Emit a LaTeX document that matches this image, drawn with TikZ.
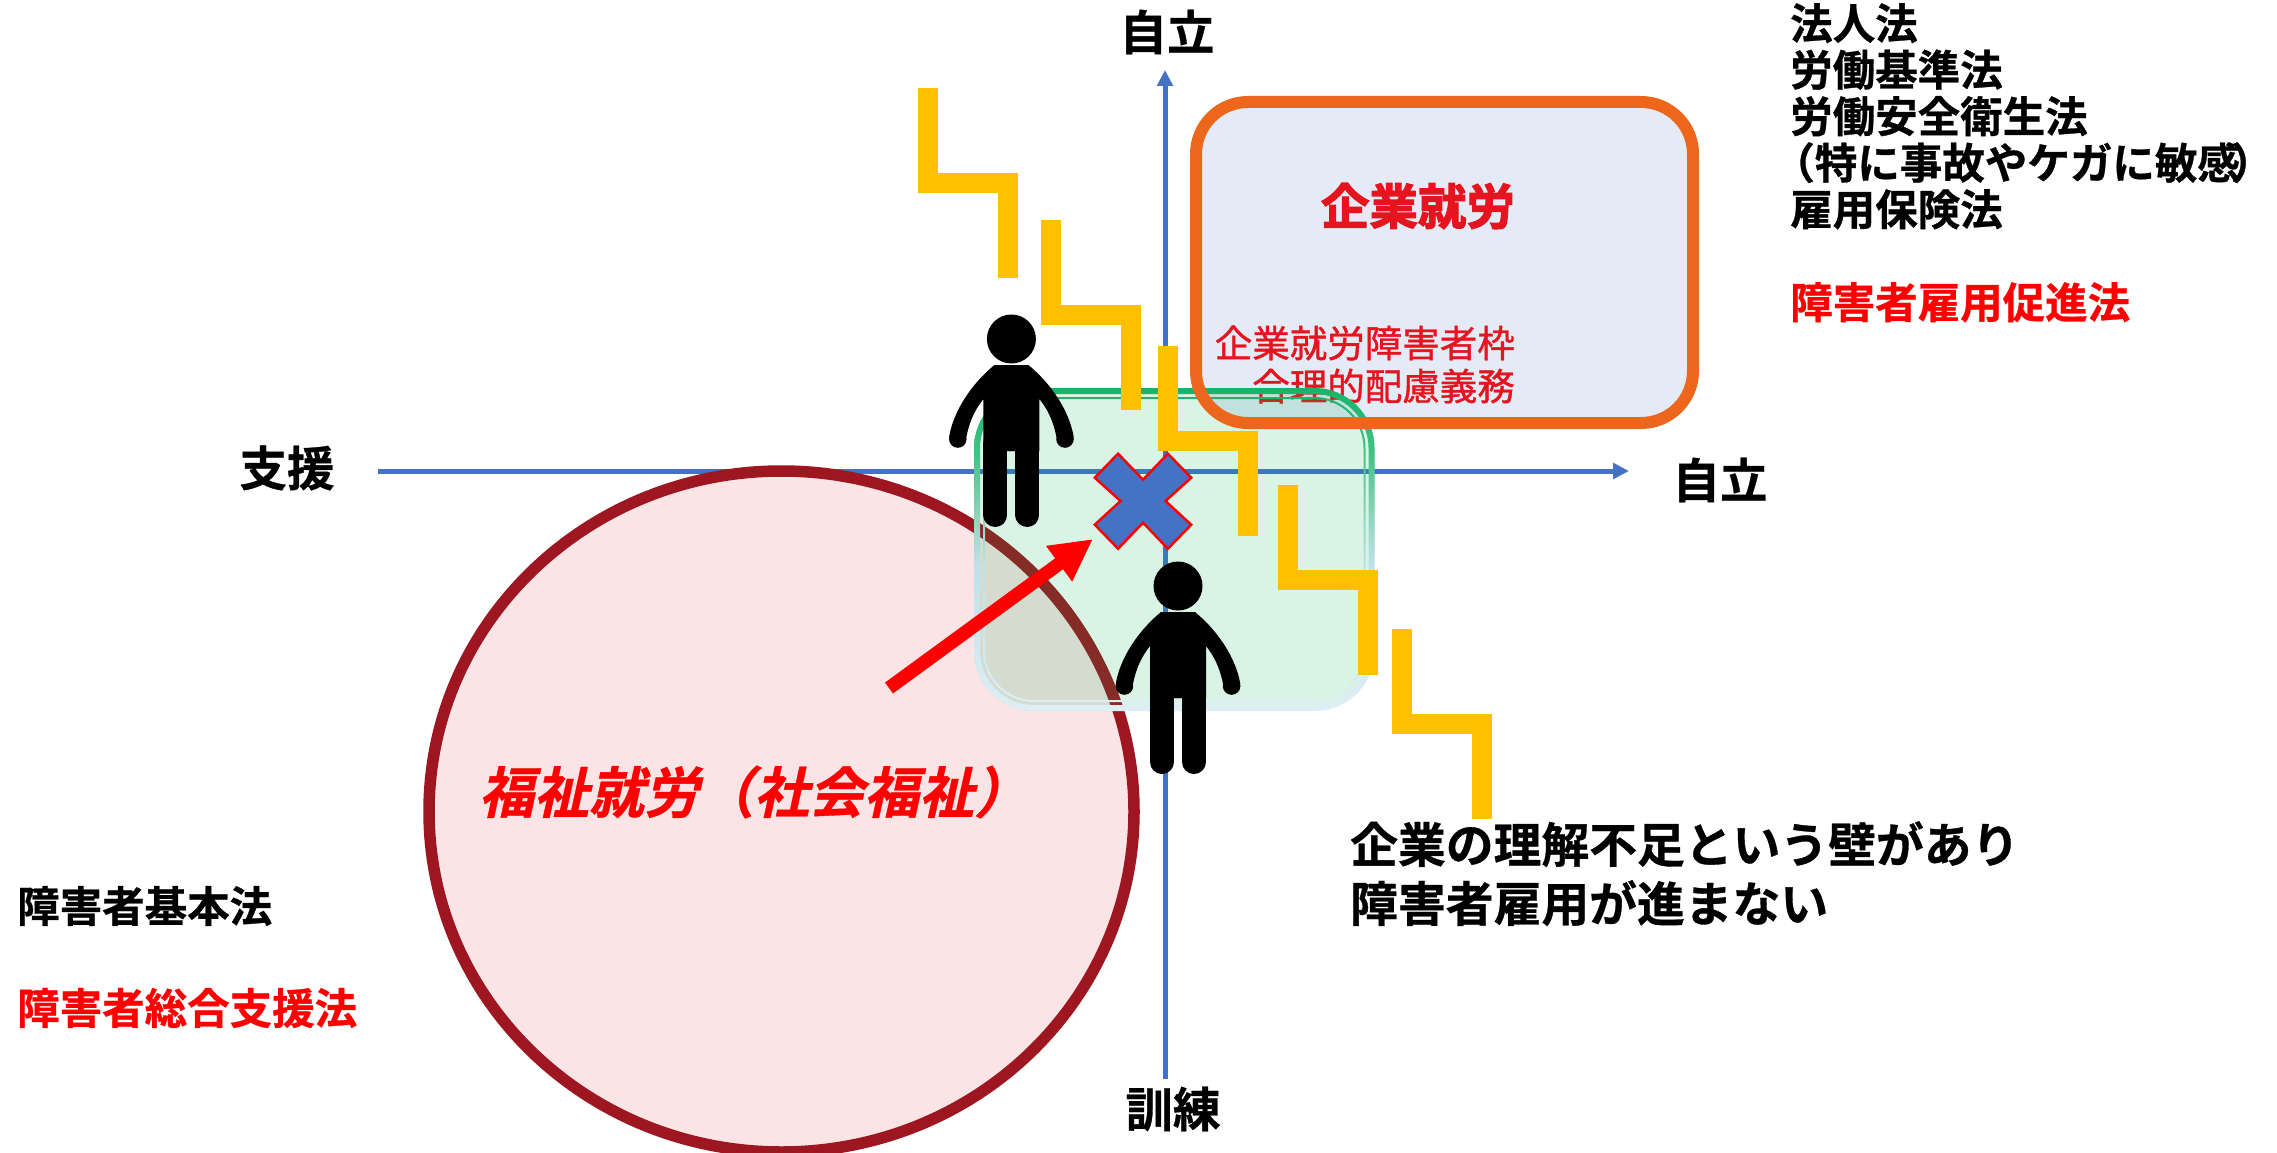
\documentclass[tikz,border=0pt]{standalone}
\usepackage{fontspec}
\setmainfont{Noto Sans CJK JP}
\newfontfamily\boldjp[FakeBold=0.7]{Noto Sans CJK JP Bold}
\newfontfamily\heavyjp[FakeBold=2.6]{Noto Sans CJK JP Bold}
\newfontfamily\midjp[FakeBold=1]{Noto Sans CJK JP}
\newfontfamily\slantjp[FakeSlant=0.22,FakeBold=0.7]{Noto Sans CJK JP Bold}
\usepackage{tikz}
\usetikzlibrary{arrows.meta}
\definecolor{axisblue}{HTML}{4472C4}
\definecolor{stairyellow}{HTML}{FFC000}
\definecolor{boxorange}{HTML}{EC661C}
\definecolor{boxblue}{HTML}{E4EAF6}
\definecolor{boxred}{HTML}{E6141E}
\definecolor{circlered}{HTML}{9E1620}
\definecolor{circlepink}{HTML}{FBE4E6}
\definecolor{zonegreen}{HTML}{00B050}
\definecolor{ring0}{HTML}{17B368}
\definecolor{ring1}{HTML}{40C283}
\definecolor{ring2}{HTML}{90D4BE}
\definecolor{ring3}{HTML}{BEE1EA}
\definecolor{ring4}{HTML}{DEEEF5}
\pgfdeclareverticalshading{ringshade}{100bp}{color(0bp)=(ring4); color(25bp)=(ring4); color(47.5bp)=(ring3); color(55bp)=(ring2); color(65bp)=(ring1); color(75bp)=(ring0); color(100bp)=(ring0)}
\tikzset{axis line/.style={draw=axisblue,line width=5pt,-{Triangle[length=16pt,width=15.5pt]}},
axis label/.style={font=\boldjp\fontsize{47.5}{56}\selectfont,inner sep=0pt},
law list/.style={font=\boldjp\fontsize{42.5}{46.5}\selectfont,inner sep=0pt,anchor=north west,align=left},
stair/.style={draw=stairyellow,line width=20pt,miter limit=10},
person/.pic={
  \fill (0,0) circle (24.5pt);
  \foreach \s in {-1,1} {
    \fill[xscale=\s] (-3,26) -- (17,26) .. controls (40,45) and (58,72) .. (62.3,98) -- (45,98)
      .. controls (42,82) and (36,70) .. (28,60) -- (28,112) -- (-3,112) -- cycle;
    \fill[xscale=\s] (53.6,100) circle (8.8pt);
    \draw[xscale=\s,line width=24pt,line cap=round] (16,105) -- (16,176);
  }
}
}

\begin{document}
\begin{tikzpicture}[x=1pt,y=-1pt]
        \clip (0,0) rectangle (2277,1153);

        \coordinate (v_0) at (1165,1079);
        \coordinate (v_1) at (1165,70);
        \coordinate (h_0) at (378,471);
        \coordinate (h_1) at (1629,471);
        \draw[axis line] (v_0) -- (v_1);
        \draw[axis line] (h_0) -- (h_1);

        % welfare circle
        \draw[draw=circlered,fill=circlepink,line width=11.5pt] (781.5,811.5) ellipse (352.5pt and 340.5pt);

        % company box, its outline comes again after the green zone
        \fill[boxblue,rounded corners=52pt] (1196,102) rectangle (1693,423);
        \node[font=\heavyjp\fontsize{48.5}{58}\selectfont,text=boxred,inner sep=0pt] (box_title) at (1418,206) {企業就労};
        \node[font=\midjp\fontsize{37.5}{43}\selectfont,text=boxred,inner sep=0pt,anchor=east,align=right] (box_note) at (1515,364.5) {企業就労障害者枠\\合理的配慮義務};

        % green zone
        \fill[zonegreen,fill opacity=.15,rounded corners=60pt] (974,388) rectangle (1374.5,711);
        \shade[shading=ringshade,even odd rule]
          [rounded corners=60pt] (974,388) rectangle (1374.5,711)
          [rounded corners=54pt] (980,394) rectangle (1368.5,705)
          [rounded corners=51pt] (983,397) rectangle (1365.5,702)
          [rounded corners=49pt] (985,399) rectangle (1363.5,700);
        \draw[boxorange,line width=12pt,rounded corners=52pt] (1196,102) rectangle (1693,423);

        % stairs
        \foreach \sx/\sy in {928/88,1051/220,1168/346,1288/485,1402/629}
          \draw[stair] (\sx,\sy) -- ++(0,95) -- ++(80,0) -- ++(0,95);

        \path (1011.4,339) pic {person};
        \path (1178,586) pic {person};

        % cross mark
        \draw[fill=axisblue,draw=red,line width=2.5pt,shift={(1143,501)}]
          (-24.9,-47.3) -- (0,-21.3) -- (24.9,-47.3) -- (48.2,-23.3) -- (22.5,0) -- (48.2,23.7)
          -- (24.9,47.7) -- (0,21.7) -- (-24.9,47.7) -- (-48.2,23.7) -- (-22.5,0) -- (-48.2,-23.3) -- cycle;

        \coordinate (move_0) at (889,688);
        \coordinate (move_1) at (1093,539);
        \draw[draw=red,line width=13.5pt,-{Triangle[length=42pt,width=41pt]}] (move_0) -- (move_1);

        \node[axis label] (l_up)      at (1167,32)   {自立};
        \node[axis label] (l_right)   at (1720,480)  {自立};
        \node[axis label] (l_left)    at (287,468)   {支援};
        \node[axis label] (l_down)    at (1173,1109) {訓練};

        \node[font=\slantjp\fontsize{55}{64}\selectfont,text=red,inner sep=0pt,anchor=west] (l_welfare) at (479,792) {福祉就労（社会福祉）};

        \node[law list] (l_laws) at (1790,3) {法人法\\労働基準法\\労働安全衛生法\\\hspace*{-.42em}（特に事故やケガに敏感\hspace{-.2em}）\hspace{-.5em}\\雇用保険法\\\\\textcolor{red}{障害者雇用促進法}};
        \node[law list,anchor=west] (l_basic) at (17,906) {障害者基本法};
        \node[law list,anchor=west,text=red] (l_support) at (17,1008) {障害者総合支援法};

        \node[font=\boldjp\fontsize{47.8}{59}\selectfont,inner sep=0pt,anchor=north west,align=left] (l_wall) at (1350,821) {企業の理解不足という壁があり\\障害者雇用が進まない};
      \end{tikzpicture}
\end{document}
